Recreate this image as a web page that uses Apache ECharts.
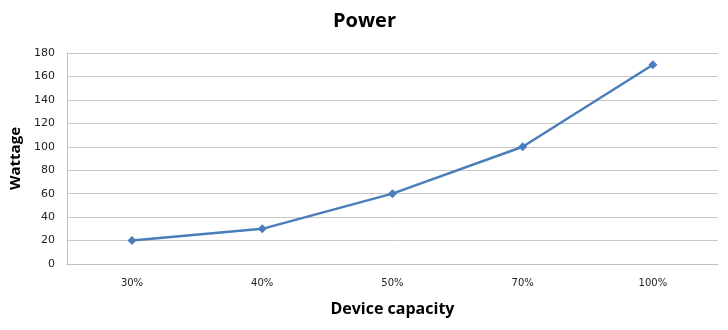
<!DOCTYPE html>
<html><head><meta charset="utf-8">
<script src="https://cdn.jsdelivr.net/npm/echarts@6/dist/echarts.min.js"></script>
<style>html,body{margin:0;padding:0;background:#fff}#c{width:728px;height:330px}</style>
</head><body><div id="c"></div>
<script>
const categories = ['30%', '40%', '50%', '70%', '100%'];
const wattage = [20, 30, 60, 100, 170];
const yTicks = {min: 0, max: 180, interval: 20};

const chart = echarts.init(document.getElementById('c'), null, {renderer: 'canvas'});
chart.setOption({
  animation: false,
  title: {
    text: 'Power', top: 6, left: 328,
    textStyle: {fontFamily: 'Open Sans', fontWeight: 'bold', fontSize: 20, color: '#000'}
  },
  grid: {left: 65, right: 10, top: 53, bottom: 66},
  xAxis: {
    type: 'category', data: categories, boundaryGap: true,
    name: 'Device capacity', nameLocation: 'middle', nameGap: 37,
    nameTextStyle: {fontFamily: 'Open Sans', fontWeight: 'bold', fontSize: 16, color: '#000'},
    axisLine: {lineStyle: {color: '#bfbfbf', width: 1}},
    axisTick: {show: false},
    axisLabel: {fontFamily: 'DejaVu Sans', fontSize: 10, color: '#222', margin: 14}
  },
  yAxis: {
    type: 'value', min: yTicks.min, max: yTicks.max, interval: yTicks.interval,
    name: 'Wattage', nameLocation: 'middle', nameGap: 42, nameRotate: 90,
    nameTextStyle: {fontFamily: 'Open Sans', fontWeight: 'bold', fontSize: 15, color: '#000'},
    axisLine: {show: true, lineStyle: {color: '#bfbfbf', width: 1}},
    axisTick: {show: false},
    splitLine: {lineStyle: {color: '#c8c8c8', width: 1}},
    axisLabel: {fontFamily: 'DejaVu Sans', fontSize: 11, color: '#222', margin: 12}
  },
  series: [{
    type: 'line', data: wattage,
    symbol: 'diamond', symbolSize: 9,
    lineStyle: {color: '#4a7ebb', width: 2.5},
    itemStyle: {color: '#4a7ebb'}
  }]
});
</script></body></html>
